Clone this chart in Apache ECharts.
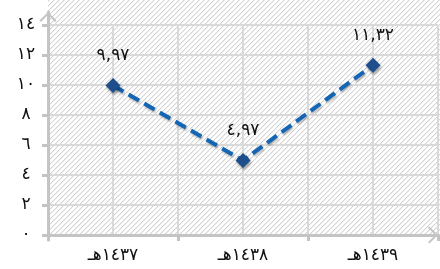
<!DOCTYPE html>
<html lang="ar">
<head>
<meta charset="UTF-8">
<title>chart</title>
<script src="https://cdn.jsdelivr.net/npm/echarts@6/dist/echarts.min.js"></script>
<style>
  html, body { margin: 0; padding: 0; background: #fff; }
  #main { width: 440px; height: 269px; }
</style>
</head>
<body>
<div id="main"></div>
<script>
  // data
  var categories = ['١٤٣٧هـ', '١٤٣٨هـ', '١٤٣٩هـ'];
  var values = [9.97, 4.97, 11.32];
  var yTickValues = [0, 2, 4, 6, 8, 10, 12, 14];
  var yTickLabels = ['٠', '٢', '٤', '٦', '٨', '١٠', '١٢', '١٤'];

  var font = 'DejaVu Sans';
  var axisGray = '#c4c4c4';
  var gridGray = '#d9d9d9';

  // 1,23 -> arabic-indic digits with comma
  function toArabic(v) {
    return v.toFixed(2).replace(/[0-9]/g, function (d) { return '٠١٢٣٤٥٦٧٨٩'[d]; }).replace('.', ',');
  }

  // hatched background tile
  var n = 5;
  var tile = document.createElement('canvas');
  tile.width = n; tile.height = n;
  var ctx = tile.getContext('2d');
  ctx.fillStyle = '#fff';
  ctx.fillRect(0, 0, n, n);
  for (var x = 0; x < n; x++) {
    for (var y = 0; y < n; y++) {
      var k = (x + y) % n;
      if (k === 0) { ctx.fillStyle = '#d2d2d2'; ctx.fillRect(x, y, 1, 1); }
      else if (k === 1) { ctx.fillStyle = '#f0f0f0'; ctx.fillRect(x, y, 1, 1); }
    }
  }

  var chevron = 'path://M0,9 L9,0 L18,9 L16.5,10.5 L9,3 L1.5,10.5 Z';

  var chart = echarts.init(document.getElementById('main'), null, { renderer: 'canvas' });

  chart.setOption({
    animation: false,
    textStyle: { fontFamily: font },
    graphic: [{
      type: 'rect',
      left: 48, top: 0,
      z: -10,
      shape: { width: 392, height: 235 },
      style: { fill: { image: tile, repeat: 'repeat' } }
    }],
    grid: [
      { left: 48, right: 2, top: 25, bottom: 34 },
      { left: 48, right: 2, top: 12, bottom: 29 }
    ],
    xAxis: [{
      type: 'category',
      gridIndex: 0,
      data: categories,
      boundaryGap: true,
      axisLine: { show: true, symbol: ['none', chevron], symbolSize: [18, 10], symbolOffset: [0, -5],
        lineStyle: { color: axisGray, width: 3 } },
      axisTick: { show: true, length: 6, lineStyle: { color: axisGray, width: 3 } },
      axisLabel: { color: '#111', fontSize: 17, margin: 12 },
      splitLine: { show: false }
    }, {
      // vertical grid lines at category centres and boundaries
      type: 'value',
      gridIndex: 0,
      min: 0, max: 6, interval: 1,
      axisLine: { show: false }, axisTick: { show: false }, axisLabel: { show: false },
      splitLine: { show: true, lineStyle: { color: gridGray, width: 2 } }
    }, {
      type: 'value', gridIndex: 1, show: false
    }],
    yAxis: [{
      type: 'value',
      gridIndex: 0,
      min: 0, max: 14, interval: 2,
      axisLine: { show: false },
      axisTick: { show: true, length: 6, lineStyle: { color: axisGray, width: 3 } },
      axisLabel: {
        color: '#111', fontSize: 17, margin: 22, align: 'center',
        formatter: function (v) { return yTickLabels[yTickValues.indexOf(v)]; }
      },
      splitLine: { show: true, lineStyle: { color: gridGray, width: 2 } }
    }, {
      // axis line with arrow, reaching above the top tick
      type: 'value',
      gridIndex: 1,
      min: 0, max: 1,
      axisLine: { show: true, symbol: ['none', chevron], symbolSize: [18, 10], symbolOffset: [0, -5],
        lineStyle: { color: axisGray, width: 3 } },
      axisTick: { show: false }, axisLabel: { show: false }, splitLine: { show: false }
    }],
    series: [{
      type: 'line',
      xAxisIndex: 0,
      yAxisIndex: 0,
      data: values,
      symbol: 'diamond',
      symbolSize: 15,
      z: 5,
      lineStyle: {
        color: '#1565b5', width: 4, type: [12, 6],
        shadowColor: 'rgba(0,0,0,0.25)', shadowBlur: 2, shadowOffsetX: 1, shadowOffsetY: 2
      },
      itemStyle: {
        color: '#1f4e8c',
        shadowColor: 'rgba(0,0,0,0.4)', shadowBlur: 3, shadowOffsetX: 1, shadowOffsetY: 2
      },
      label: {
        show: true, position: 'top', distance: 14,
        color: '#111', fontSize: 17,
        formatter: function (p) { return toArabic(p.value); }
      }
    }]
  });
</script>
</body>
</html>
